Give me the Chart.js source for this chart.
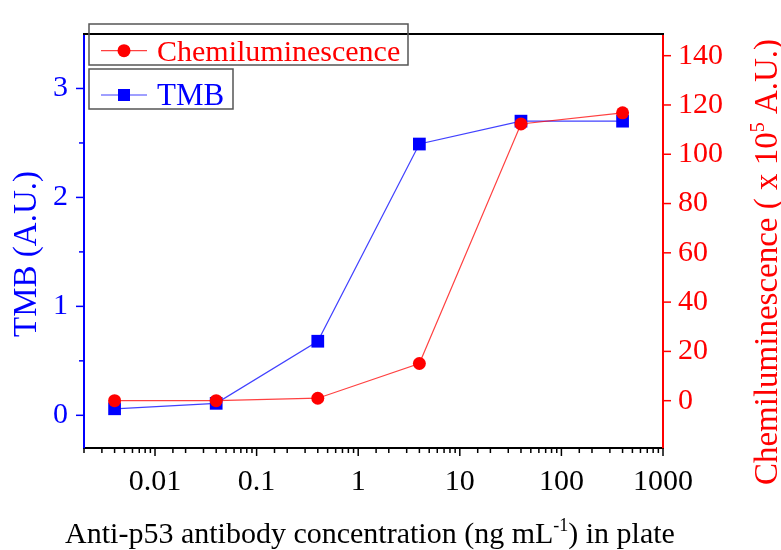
<!DOCTYPE html>
<html><head><meta charset="utf-8">
<script src="https://cdn.jsdelivr.net/npm/chart.js@4/dist/chart.umd.min.js"></script>
<style>html,body{margin:0;padding:0;background:#fff}</style>
</head><body>
<canvas id="c" width="781" height="550"></canvas>
<script>
// ---- data ----
const concentrations = [0.004, 0.04, 0.4, 4, 40, 400];
const tmbValues = [0.06, 0.11, 0.68, 2.49, 2.70, 2.70];
const chemiValues = [0, 0, 1.0, 15.1, 112.3, 116.8];
const xTickValues = [0.01, 0.1, 1, 10, 100, 1000];
const xTickLabels = ['0.01', '0.1', '1', '10', '100', '1000'];
const tmbTickValues = [0, 1, 2, 3];
const tmbMinorTicks = [0.5, 1.5, 2.5];
const chemiTickValues = [0, 20, 40, 60, 80, 100, 120, 140];
const seriesNames = ['Chemiluminescence', 'TMB'];

const SERIF = "'Liberation Serif','Times New Roman',serif";
const BLUE = '#0000ff', RED = '#ff0000';

function near(a, b) { return Math.abs(a - b) < 1e-6 * Math.max(1, Math.abs(b)); }

const extrasPlugin = {
  id: 'extras',
  afterDraw(chart) {
    const ctx = chart.ctx;
    const ca = chart.chartArea;
    const sx = chart.scales.x, sy = chart.scales.y, sy1 = chart.scales.y1;
    ctx.save();
    // top border
    ctx.strokeStyle = '#000'; ctx.lineWidth = 2;
    ctx.beginPath(); ctx.moveTo(ca.left - 1, ca.top); ctx.lineTo(ca.right + 1, ca.top); ctx.stroke();
    // x ticks
    ctx.lineWidth = 1.5; ctx.strokeStyle = '#000';
    sx.ticks.forEach(t => {
      const px = sx.getPixelForValue(t.value);
      const major = xTickValues.some(v => near(v, t.value));
      ctx.beginPath(); ctx.moveTo(px, ca.bottom); ctx.lineTo(px, ca.bottom + (major ? 8 : 5)); ctx.stroke();
    });
    // left ticks
    ctx.strokeStyle = BLUE;
    tmbTickValues.forEach(v => { const py = sy.getPixelForValue(v); ctx.beginPath(); ctx.moveTo(ca.left, py); ctx.lineTo(ca.left - 8, py); ctx.stroke(); });
    tmbMinorTicks.forEach(v => { const py = sy.getPixelForValue(v); ctx.beginPath(); ctx.moveTo(ca.left, py); ctx.lineTo(ca.left - 5, py); ctx.stroke(); });
    // right ticks
    ctx.strokeStyle = RED;
    chemiTickValues.forEach(v => { const py = sy1.getPixelForValue(v); ctx.beginPath(); ctx.moveTo(ca.right, py); ctx.lineTo(ca.right + 8, py); ctx.stroke(); });

    // axis titles
    ctx.textBaseline = 'alphabetic';
    ctx.save();
    ctx.fillStyle = BLUE; ctx.font = '33px ' + SERIF; ctx.textAlign = 'center';
    ctx.translate(36, 254); ctx.rotate(-Math.PI / 2);
    ctx.fillText('TMB (A.U.)', 0, 0);
    ctx.restore();
    ctx.save();
    ctx.fillStyle = RED; ctx.translate(777, 262); ctx.rotate(-Math.PI / 2);
    drawSup(ctx, 'Chemiluminescence ( x 10', '5', ' A.U.)', 33, 20, 13);
    ctx.restore();
    ctx.save();
    ctx.fillStyle = '#000'; ctx.translate(370, 543);
    drawSup(ctx, 'Anti-p53 antibody concentration (ng mL', '-1', ') in plate', 30, 18, 12);
    ctx.restore();

    // legend boxes
    const L = ca.left;
    drawLegendBox(ctx, L + 5, 24, 319, 41, RED, 'circle', seriesNames[0], 30);
    drawLegendBox(ctx, L + 5, 69, 144, 40, BLUE, 'rect', seriesNames[1], 31);
    ctx.restore();
  }
};

function drawSup(ctx, a, sup, b, size, supSize, rise) {
  ctx.font = size + 'px ' + SERIF;
  const wa = ctx.measureText(a).width, wb = ctx.measureText(b).width;
  ctx.font = supSize + 'px ' + SERIF;
  const ws = ctx.measureText(sup).width;
  const total = wa + ws + wb;
  let x = -total / 2;
  ctx.textAlign = 'left';
  ctx.font = size + 'px ' + SERIF; ctx.fillText(a, x, 0); x += wa;
  ctx.font = supSize + 'px ' + SERIF; ctx.fillText(sup, x, -rise); x += ws;
  ctx.font = size + 'px ' + SERIF; ctx.fillText(b, x, 0);
}

function drawLegendBox(ctx, x, y, w, h, color, style, text, fsize) {
  ctx.save();
  ctx.strokeStyle = '#555'; ctx.lineWidth = 1.5;
  ctx.strokeRect(x, y, w, h);
  const cy = y + h * 0.65;
  const lx = x + 12;
  ctx.strokeStyle = color; ctx.globalAlpha = 0.75; ctx.lineWidth = 1.2;
  ctx.beginPath(); ctx.moveTo(lx, cy); ctx.lineTo(lx + 46, cy); ctx.stroke();
  ctx.globalAlpha = 1; ctx.fillStyle = color;
  if (style === 'circle') { ctx.beginPath(); ctx.arc(lx + 23, cy, 6.5, 0, Math.PI * 2); ctx.fill(); }
  else { ctx.fillRect(lx + 23 - 6, cy - 6, 12, 12); }
  ctx.font = fsize + 'px ' + SERIF; ctx.textAlign = 'left'; ctx.textBaseline = 'alphabetic';
  ctx.fillText(text, x + 68, cy + 10);
  ctx.restore();
}

const chart = new Chart(document.getElementById('c').getContext('2d'), {
  type: 'line',
  data: {
    datasets: [
      {
        label: seriesNames[0],
        data: concentrations.map((x, i) => ({ x: x, y: chemiValues[i] })),
        yAxisID: 'y1',
        borderColor: 'rgba(255,0,0,0.75)', borderWidth: 1.2,
        backgroundColor: RED, pointBackgroundColor: RED, pointBorderColor: RED,
        pointStyle: 'circle', pointRadius: 6.5, pointBorderWidth: 0, tension: 0
      },
      {
        label: seriesNames[1],
        data: concentrations.map((x, i) => ({ x: x, y: tmbValues[i] })),
        yAxisID: 'y',
        borderColor: 'rgba(0,0,255,0.75)', borderWidth: 1.2,
        backgroundColor: BLUE, pointBackgroundColor: BLUE, pointBorderColor: BLUE,
        pointStyle: 'rect', pointRadius: 9, pointBorderWidth: 0, tension: 0
      }
    ]
  },
  options: {
    responsive: false, animation: false, devicePixelRatio: 1,
    layout: { padding: { top: 15, left: 0, right: 0, bottom: 0 } },
    plugins: { legend: { display: false }, tooltip: { enabled: false } },
    scales: {
      x: {
        type: 'logarithmic', position: 'bottom', min: 0.002, max: 1000,
        afterFit: s => { s.height = 102; },
        grid: { display: true, drawOnChartArea: false, drawTicks: false },
        border: { display: true, color: '#000', width: 2 },
        ticks: {
          autoSkip: false, maxRotation: 0, minRotation: 0, padding: 16,
          color: '#000', font: { family: SERIF, size: 30 },
          callback: function (v) {
            const i = xTickValues.findIndex(t => near(t, v));
            return i >= 0 ? xTickLabels[i] : '';
          }
        }
      },
      y: {
        type: 'linear', position: 'left', min: -0.3, max: 3.5,
        afterFit: s => { s.width = 84; },
        afterBuildTicks: s => { s.ticks = tmbTickValues.map(v => ({ value: v })); },
        grid: { display: true, drawOnChartArea: false, drawTicks: false },
        border: { display: true, color: BLUE, width: 2 },
        ticks: {
          autoSkip: false, padding: 16, color: BLUE,
          font: { family: SERIF, size: 30 },
          callback: v => String(v)
        }
      },
      y1: {
        type: 'linear', position: 'right', min: -19.2, max: 148.8,
        afterFit: s => { s.width = 118; },
        afterBuildTicks: s => { s.ticks = chemiTickValues.map(v => ({ value: v })); },
        grid: { display: true, drawOnChartArea: false, drawTicks: false },
        border: { display: true, color: RED, width: 2 },
        ticks: {
          autoSkip: false, padding: 15, color: RED,
          font: { family: SERIF, size: 30 },
          callback: v => String(v)
        }
      }
    }
  },
  plugins: [extrasPlugin]
});
</script>
</body></html>
